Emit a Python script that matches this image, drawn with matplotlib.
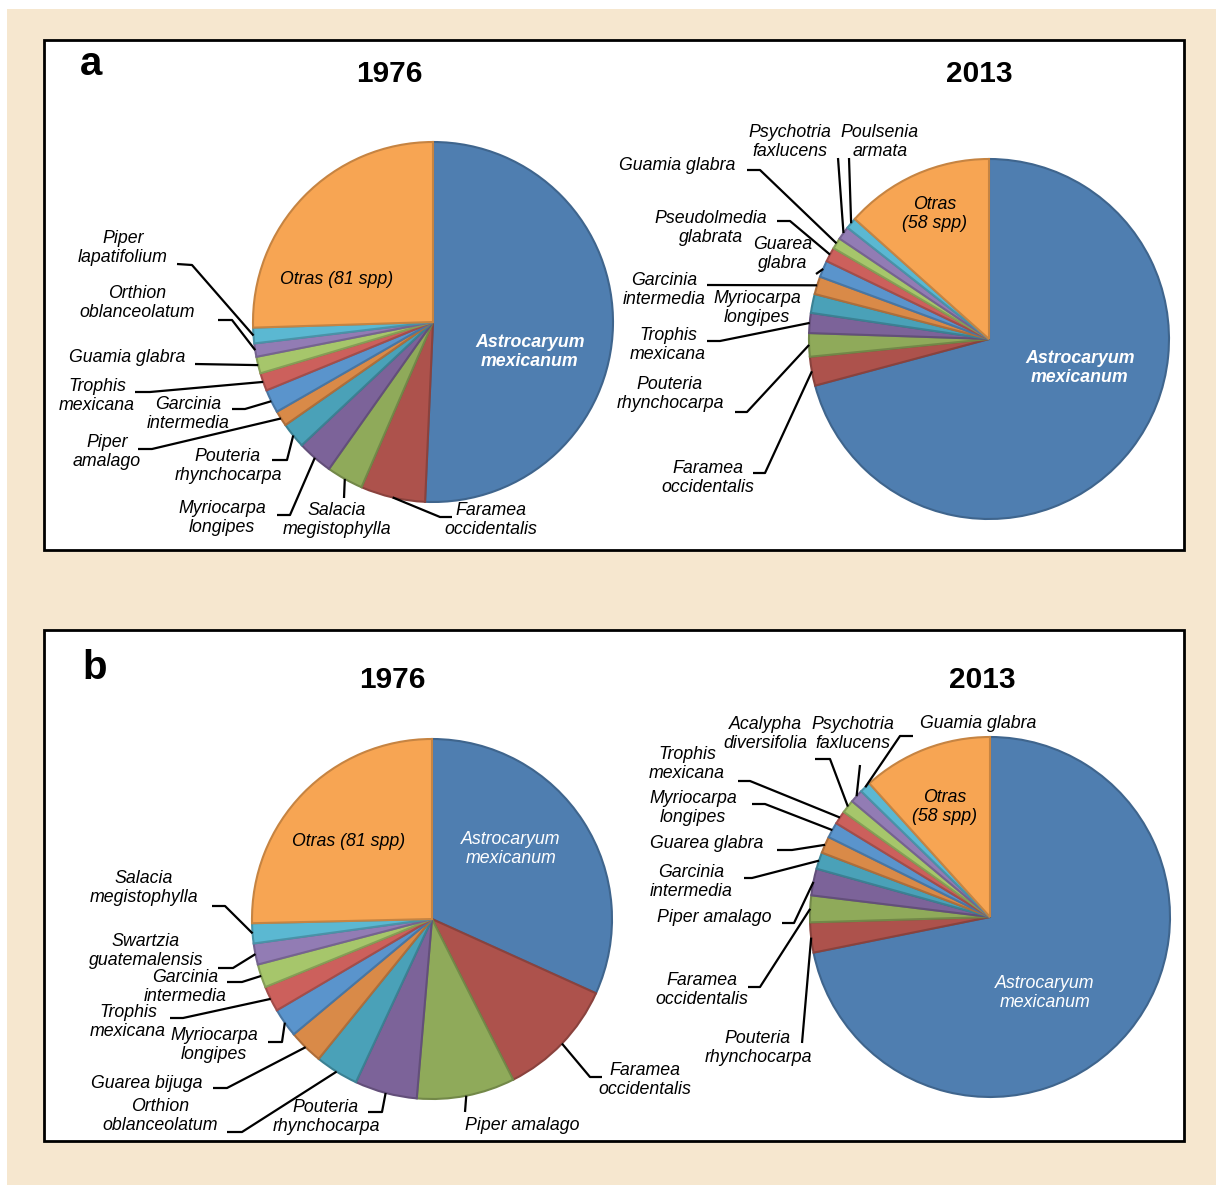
import numpy as np
import matplotlib
matplotlib.use('Agg')
import matplotlib.pyplot as plt
from matplotlib.patches import Rectangle
from matplotlib.colors import to_rgb

plt.rcParams['font.family'] = ['Liberation Sans', 'DejaVu Sans']

W, H = 1216, 1185

# data: species and share (%) in each census
labels_a76 = ['Astrocaryum mexicanum', 'Faramea occidentalis', 'Salacia megistophylla',
              'Myriocarpa longipes', 'Pouteria rhynchocarpa', 'Piper amalago',
              'Garcinia intermedia', 'Trophis mexicana', 'Guamia glabra',
              'Orthion oblanceolatum', 'Piper lapatifolium', 'Otras (81 spp)']
values_a76 = [50.7, 5.8, 3.3, 3.2, 2.3, 1.4, 2.1, 1.6, 1.5, 1.2, 1.4, 25.5]

labels_a13 = ['Astrocaryum mexicanum', 'Faramea occidentalis', 'Pouteria rhynchocarpa',
              'Trophis mexicana', 'Myriocarpa longipes', 'Garcinia intermedia',
              'Guarea glabra', 'Pseudolmedia glabrata', 'Guamia glabra',
              'Psychotria faxlucens', 'Poulsenia armata', 'Otras (58 spp)']
values_a13 = [70.9, 2.6, 2.1, 1.8, 1.7, 1.6, 1.5, 1.3, 1.0, 1.2, 1.0, 13.4]

labels_b76 = ['Astrocaryum mexicanum', 'Faramea occidentalis', 'Piper amalago',
              'Pouteria rhynchocarpa', 'Orthion oblanceolatum', 'Guarea bijuga',
              'Myriocarpa longipes', 'Trophis mexicana', 'Garcinia intermedia',
              'Swartzia guatemalensis', 'Salacia megistophylla', 'Otras (81 spp)']
values_b76 = [31.8, 10.8, 8.8, 5.6, 3.9, 3.1, 2.6, 2.3, 2.1, 1.9, 1.8, 25.4]

labels_b13 = ['Astrocaryum mexicanum', 'Pouteria rhynchocarpa', 'Faramea occidentalis',
              'Piper amalago', 'Garcinia intermedia', 'Guarea glabra',
              'Myriocarpa longipes', 'Trophis mexicana', 'Acalypha diversifolia',
              'Psychotria faxlucens', 'Guamia glabra', 'Otras (58 spp)']
values_b13 = [71.9, 2.7, 2.4, 2.4, 1.5, 1.5, 1.4, 1.2, 1.2, 1.2, 1.0, 11.7]

# Excel-like palette, same order for every pie
colors = ['#4f7eb0', '#ad524c', '#8faa5a', '#7c6399', '#4aa1b8', '#d98a48',
          '#5a94cc', '#cc605c', '#a6c66b', '#927cb4', '#5bb8d2', '#f7a553']
edges = [tuple(0.8 * c for c in to_rgb(col)) for col in colors]

# label layout: text centre, leader elbow points (end is put on the wedge), one line?
lay_a76 = {
    'Faramea occidentalis': ((491, 520), [(452, 517), (440, 517)], False),
    'Salacia megistophylla': ((337, 520), [(344, 498)], False),
    'Myriocarpa longipes': ((222, 518), [(277, 515), (290, 515)], False),
    'Pouteria rhynchocarpa': ((228, 466), [(272, 460), (287, 460)], False),
    'Piper amalago': ((107, 452), [(138, 449), (152, 449)], False),
    'Garcinia intermedia': ((188, 414), [(232, 409), (245, 409)], False),
    'Trophis mexicana': ((97, 396), [(135, 392), (150, 392)], False),
    'Guamia glabra': ((127, 358), [(195, 364)], True),
    'Orthion oblanceolatum': ((137, 303), [(218, 320), (232, 320)], False),
    'Piper lapatifolium': ((123, 248), [(177, 264), (192, 265)], False),
}
lay_a13 = {
    'Faramea occidentalis': ((708, 478), [(753, 473), (765, 473)], False),
    'Pouteria rhynchocarpa': ((670, 394), [(735, 412), (747, 412)], False),
    'Trophis mexicana': ((668, 345), [(707, 341), (720, 341)], False),
    'Myriocarpa longipes': ((757, 308), [], False),
    'Garcinia intermedia': ((664, 290), [(707, 285)], False),
    'Guarea glabra': ((783, 254), [(816, 274)], False),
    'Pseudolmedia glabrata': ((711, 228), [(777, 221), (790, 221)], False),
    'Guamia glabra': ((677, 165), [(747, 170), (760, 170)], True),
    'Psychotria faxlucens': ((790, 142), [(838, 158)], False),
    'Poulsenia armata': ((880, 142), [(849, 158)], False),
}
lay_b76 = {
    'Faramea occidentalis': ((645, 1080), [(602, 1077), (590, 1077)], False),
    'Piper amalago': ((522, 1125), [(465, 1112)], True),
    'Pouteria rhynchocarpa': ((326, 1117), [(368, 1112), (382, 1112)], False),
    'Orthion oblanceolatum': ((160, 1116), [(227, 1132), (242, 1132)], False),
    'Guarea bijuga': ((147, 1083), [(213, 1088), (227, 1088)], True),
    'Myriocarpa longipes': ((214, 1045), [(268, 1042), (282, 1042)], False),
    'Trophis mexicana': ((128, 1022), [(170, 1018), (183, 1018)], False),
    'Garcinia intermedia': ((185, 987), [(227, 982), (242, 982)], False),
    'Swartzia guatemalensis': ((146, 951), [(218, 968), (233, 968)], False),
    'Salacia megistophylla': ((144, 888), [(212, 906), (225, 906)], False),
}
lay_b13 = {
    'Pouteria rhynchocarpa': ((758, 1048), [(802, 1043)], False),
    'Faramea occidentalis': ((702, 990), [(748, 987), (760, 987)], False),
    'Piper amalago': ((714, 918), [(782, 923), (794, 923)], True),
    'Garcinia intermedia': ((691, 882), [(744, 878), (752, 878)], False),
    'Guarea glabra': ((707, 843), [(777, 850), (792, 850)], True),
    'Myriocarpa longipes': ((693, 808), [(752, 804), (765, 804)], False),
    'Trophis mexicana': ((687, 764), [(738, 781), (750, 781)], False),
    'Acalypha diversifolia': ((765, 734), [(815, 759), (830, 759)], False),
    'Psychotria faxlucens': ((853, 734), [(860, 765)], False),
    'Guamia glabra': ((978, 723), [(913, 736), (900, 736)], True),
}

fig = plt.figure(figsize=(W / 100, H / 100), dpi=100)
fig.patch.set_facecolor('white')
ax = fig.add_axes([0, 0, 1, 1])

# background and panel frames
ax.add_patch(Rectangle((7, 9), W - 7, H - 9, facecolor='#f6e7cf', edgecolor='none', zorder=0))
ax.add_patch(Rectangle((44, 40), 1140, 510, facecolor='white', edgecolor='black', lw=2, zorder=0.5))
ax.add_patch(Rectangle((44, 630), 1140, 511, facecolor='white', edgecolor='black', lw=2, zorder=0.5))

FS = 12.8


def draw_pie(values, labels, center, r, lay):
    wedges, _ = ax.pie(values, colors=colors, center=center, radius=r,
                       startangle=-90, counterclock=True,
                       wedgeprops=dict(linewidth=1.5))
    for w, ec in zip(wedges, edges):
        w.set_edgecolor(ec)
        w.set_zorder(2)
    for w, name in zip(wedges, labels):
        if name not in lay:
            continue
        (tx, ty), pts, one_line = lay[name]
        txt = name if one_line else name.replace(' ', '\n', 1)
        ax.text(tx, ty, txt, ha='center', va='center', fontsize=FS,
                style='italic', linespacing=1.12, zorder=5)
        if pts:
            mid = np.deg2rad((w.theta1 + w.theta2) / 2)
            end = (center[0] + r * np.cos(mid), center[1] + r * np.sin(mid))
            xs = [p[0] for p in pts] + [end[0]]
            ys = [p[1] for p in pts] + [end[1]]
            ax.plot(xs, ys, color='black', lw=1.6, zorder=4, solid_capstyle='butt')


draw_pie(values_a76, labels_a76, (433, 322), 180, lay_a76)
draw_pie(values_a13, labels_a13, (989, 339), 180, lay_a13)
draw_pie(values_b76, labels_b76, (432, 919), 180, lay_b76)
draw_pie(values_b13, labels_b13, (990, 917), 180, lay_b13)

# inner labels
ax.text(337, 280, 'Otras (81 spp)', ha='center', va='center', fontsize=FS, style='italic', zorder=5)
ax.text(530, 352, 'Astrocaryum\nmexicanum', ha='center', va='center', fontsize=FS, style='italic',
        weight='bold', color='white', linespacing=1.12, zorder=5)
ax.text(935, 214, 'Otras\n(58 spp)', ha='center', va='center', fontsize=FS, style='italic',
        linespacing=1.12, zorder=5)
ax.text(1080, 368, 'Astrocaryum\nmexicanum', ha='center', va='center', fontsize=FS, style='italic',
        weight='bold', color='white', linespacing=1.12, zorder=5)
ax.text(349, 842, 'Otras (81 spp)', ha='center', va='center', fontsize=FS, style='italic', zorder=5)
ax.text(511, 849, 'Astrocaryum\nmexicanum', ha='center', va='center', fontsize=FS, style='italic',
        color='white', linespacing=1.12, zorder=5)
ax.text(945, 807, 'Otras\n(58 spp)', ha='center', va='center', fontsize=FS, style='italic',
        linespacing=1.12, zorder=5)
ax.text(1045, 993, 'Astrocaryum\nmexicanum', ha='center', va='center', fontsize=FS, style='italic',
        color='white', linespacing=1.12, zorder=5)

# titles and panel letters
for x, y, t in [(389, 74, '1976'), (979, 74, '2013'), (392, 680, '1976'), (982, 680, '2013')]:
    ax.text(x, y, t, ha='center', va='center', fontsize=21.5, weight='bold', zorder=5)
ax.text(91, 64, 'a', ha='center', va='center', fontsize=29, weight='bold', zorder=5)
ax.text(95, 668, 'b', ha='center', va='center', fontsize=29, weight='bold', zorder=5)

ax.set_xlim(0, W)
ax.set_ylim(H, 0)
ax.set_aspect('equal')
ax.axis('off')

fig.savefig('out.png', dpi=100)
